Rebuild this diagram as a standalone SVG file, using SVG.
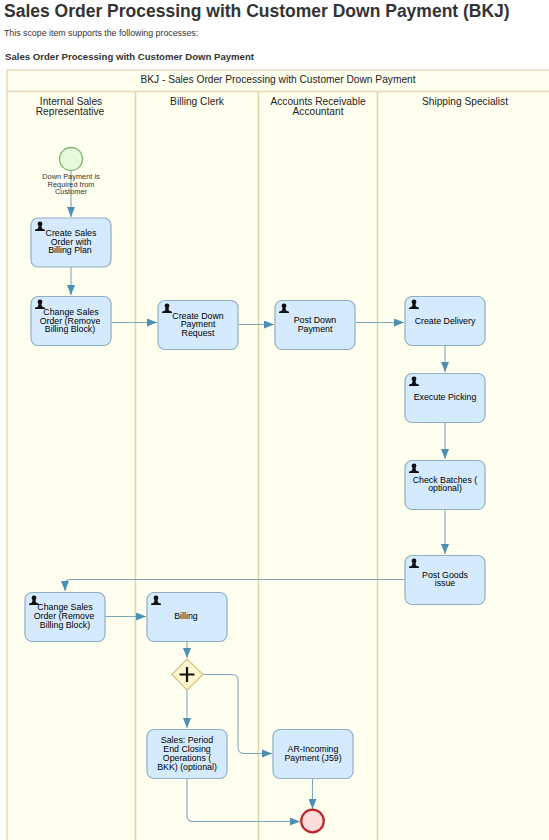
<svg xmlns="http://www.w3.org/2000/svg" width="549" height="840" viewBox="0 0 549 840">
<style>
text{font-family:"Liberation Sans",Arial,sans-serif}
.h1{font-size:17.500px;font-weight:bold;fill:#333}
.p{font-size:8.800px;fill:#333}
.h3{font-size:9.600px;font-weight:bold;fill:#333}
.lane{font-size:10.200px;fill:#222;text-anchor:middle}
.t{font-size:8.800px;fill:#000;text-anchor:middle}
.ev{font-size:7.400px;fill:#333;text-anchor:middle}
.task{fill:#d5ebfd;stroke:#8fb0c2;stroke-width:1.200}
.c{fill:none;stroke:#7fa8bb;stroke-width:1.100}
.pool{fill:#fffff0;stroke:#e8d3b0;stroke-width:1.300}
.div{stroke:#e0d6ae;stroke-width:1.600}
.arrow{fill:#4a90b2}
</style>
<defs>
<marker id="a" viewBox="0 0 10 8" refX="10" refY="4" markerWidth="10" markerHeight="8" markerUnits="userSpaceOnUse" orient="auto"><path class="arrow" d="M0 0L10 4L0 8Z"/></marker>
<g id="u"><circle cx="0" cy="-3" r="2.400" fill="#111"/><path d="M-1.500 -1L1.500 -1L2 1.500L5 2.800L5 4L-5 4L-5 2.800L-2 1.500Z" fill="#111"/></g>
</defs>
<rect width="549" height="840" fill="#fff"/>
<text class="h1" x="4" y="17">Sales Order Processing with Customer Down Payment (BKJ)</text>
<text class="p" x="4" y="36">This scope item supports the following processes:</text>
<text class="h3" x="5" y="60">Sales Order Processing with Customer Down Payment</text>
<g id="pool">
<rect class="pool" x="7" y="70" width="560" height="790"/>
<path d="M7 91.500H549" stroke="#e8d3b0" stroke-width="1.300" fill="none"/>
<path class="div" d="M135.500 92V840M258.500 92V840M377.500 92V840"/>
<text class="lane" x="278" y="83">BKJ - Sales Order Processing with Customer Down Payment</text>
<text class="lane" x="71" y="105">Internal Sales</text>
<text class="lane" x="70" y="115">Representative</text>
<text class="lane" x="197" y="105">Billing Clerk</text>
<text class="lane" x="318" y="105">Accounts Receivable</text>
<text class="lane" x="318" y="115">Accountant</text>
<text class="lane" x="465" y="105">Shipping Specialist</text>
</g>
<g id="connectors">
<path class="c" marker-end="url(#a)" d="M71 170.500V217"/>
<path class="c" marker-end="url(#a)" d="M71 267V295"/>
<path class="c" marker-end="url(#a)" d="M111.500 322.500H157"/>
<path class="c" marker-end="url(#a)" d="M238.500 324.500H274"/>
<path class="c" marker-end="url(#a)" d="M355.500 322.500H404"/>
<path class="c" marker-end="url(#a)" d="M445 345.500V372"/>
<path class="c" marker-end="url(#a)" d="M445 422.500V459"/>
<path class="c" marker-end="url(#a)" d="M445 509.500V554"/>
<path class="c" marker-end="url(#a)" d="M405 579.500H70Q65 579.500 65 584.500V591"/>
<path class="c" marker-end="url(#a)" d="M105.500 616.500H146"/>
<path class="c" marker-end="url(#a)" d="M187 641.500V658"/>
<path class="c" marker-end="url(#a)" d="M187 689.500V728"/>
<path class="c" marker-end="url(#a)" d="M203 674.500H232Q238 674.500 238 680.500V747Q238 753.500 244 753.500H272"/>
<path class="c" marker-end="url(#a)" d="M187 778.500V815.500Q187 821.500 193 821.500H300"/>
<path class="c" marker-end="url(#a)" d="M312.500 778.500V809"/>
</g>
<g id="start"><circle cx="71" cy="159" r="11.500" fill="#e6fbdc" stroke="#7fb56f" stroke-width="1.300"/>
<text class="ev" x="71" y="179">Down Payment is</text><text class="ev" x="71" y="187">Required from</text><text class="ev" x="71" y="194">Customer</text></g>
<g id="t1"><rect class="task" x="31" y="218" width="80" height="49" rx="7"/><use href="#u" x="40" y="227"/><text class="t" x="71" y="236">Create Sales</text><text class="t" x="71" y="245">Order with</text><text class="t" x="70" y="253">Billing Plan</text></g>
<g id="t2"><rect class="task" x="31" y="296.500" width="80" height="49" rx="7"/><use href="#u" x="40" y="305"/><text class="t" x="71" y="315">Change Sales</text><text class="t" x="70" y="324">Order (Remove</text><text class="t" x="70" y="332">Billing Block)</text></g>
<g id="t3"><rect class="task" x="158" y="300.500" width="80" height="49" rx="7"/><use href="#u" x="167" y="309"/><text class="t" x="198" y="319">Create Down</text><text class="t" x="198" y="327">Payment</text><text class="t" x="198" y="336">Request</text></g>
<g id="t4"><rect class="task" x="275" y="300.500" width="80" height="49" rx="7"/><use href="#u" x="284" y="309"/><text class="t" x="315" y="323">Post Down</text><text class="t" x="315" y="332">Payment</text></g>
<g id="t5"><rect class="task" x="405" y="296.500" width="80" height="49" rx="7"/><use href="#u" x="414" y="305"/><text class="t" x="445" y="324">Create Delivery</text></g>
<g id="t6"><rect class="task" x="405" y="373.500" width="80" height="49" rx="7"/><use href="#u" x="414" y="382"/><text class="t" x="445" y="400">Execute Picking</text></g>
<g id="t7"><rect class="task" x="405" y="460.500" width="80" height="49" rx="7"/><use href="#u" x="414" y="469"/><text class="t" x="445" y="483">Check Batches (</text><text class="t" x="445" y="491">optional)</text></g>
<g id="t8"><rect class="task" x="405" y="555.500" width="80" height="49" rx="7"/><use href="#u" x="414" y="564"/><text class="t" x="445" y="578">Post Goods</text><text class="t" x="445" y="586">issue</text></g>
<g id="t9"><rect class="task" x="25" y="592.500" width="80" height="49" rx="7"/><use href="#u" x="34" y="601"/><text class="t" x="65" y="610">Change Sales</text><text class="t" x="64" y="619">Order (Remove</text><text class="t" x="65" y="628">Billing Block)</text></g>
<g id="t10"><rect class="task" x="147" y="592.500" width="80" height="49" rx="7"/><use href="#u" x="156" y="601"/><text class="t" x="186" y="619">Billing</text></g>
<g id="gw"><path d="M187 659L203 674.500L187 690L172 674.500Z" fill="#fff6d0" stroke="#d8c48a" stroke-width="1.300"/><path d="M187 667V682M179.500 674.500H194.500" stroke="#111" stroke-width="2.200" fill="none"/></g>
<g id="t11"><rect class="task" x="147" y="729.500" width="80" height="49" rx="7"/><text class="t" x="187" y="743">Sales: Period</text><text class="t" x="187" y="752">End Closing</text><text class="t" x="187" y="761">Operations (</text><text class="t" x="187" y="770">BKK) (optional)</text></g>
<g id="t12"><rect class="task" x="273" y="729.500" width="80" height="49" rx="7"/><text class="t" x="313" y="752">AR-Incoming</text><text class="t" x="313" y="761">Payment (J59)</text></g>
<g id="end"><circle cx="312.500" cy="821" r="11.300" fill="#fddcdc" stroke="#c0252d" stroke-width="2.200"/></g>
</svg>
